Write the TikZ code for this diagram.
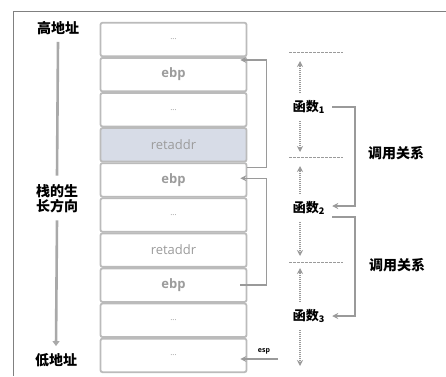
\documentclass[tikz,border=0pt]{standalone}
\usepackage{fontspec}
\setsansfont{Open Sans}
\newfontfamily\cjk{Noto Sans CJK SC}
\usetikzlibrary{arrows.meta,calc}
\definecolor{cellline}{HTML}{BBBBBB}
\definecolor{celltext}{HTML}{9C9C9C}
\definecolor{cellfill}{HTML}{D7DCE7}
\definecolor{arrgray}{HTML}{9A9A9A}
\definecolor{framegray}{HTML}{808080}
\tikzset{
  cell/.style={draw=cellline, line width=1.8pt, rounded corners=2pt, fill=white,
    minimum width=146pt, minimum height=33.5pt, inner sep=0pt,
    font=\sffamily\fontsize{13}{15}\selectfont, text=celltext},
  lbl/.style={font=\cjk\bfseries\fontsize{14}{17}\selectfont, text=black, inner sep=1pt, align=center},
  arr/.style={draw=arrgray, line width=1.5pt, -{Stealth[length=6pt,width=6pt,inset=2pt]}},
  darr/.style={draw=arrgray, line width=1.8pt, dash pattern=on 1pt off 1pt, -{Stealth[length=6pt,width=6pt,inset=2pt]}},
  dline/.style={draw=arrgray, line width=0.8pt, dash pattern=on 3pt off 1pt},
}
\begin{document}
\begin{tikzpicture}[x=1pt,y=-1pt]
\useasboundingbox (0,0) rectangle (446,376);
\draw[framegray, line width=1pt] (446,11) -- (13,11) -- (13,376);

% stack cells
\node[cell] (c1)  at (173.5, 39.5) {\fontsize{8}{9}\selectfont ...};
\node[cell] (c2)  at (173.5, 74.6) {\textbf{ebp}};
\node[cell] (c3)  at (173.5,109.7) {\fontsize{8}{9}\selectfont ...};
\node[cell, fill=cellfill] (c4) at (173.5,144.8) {retaddr};
\node[cell] (c5)  at (173.5,179.9) {\textbf{ebp}};
\node[cell] (c6)  at (173.5,215.0) {\fontsize{8}{9}\selectfont ...};
\node[cell] (c7)  at (173.5,250.1) {retaddr};
\node[cell] (c8)  at (173.5,285.2) {\textbf{ebp}};
\node[cell] (c9)  at (173.5,320.3) {\fontsize{8}{9}\selectfont ...};
\node[cell] (c10) at (173.5,355.4) {\fontsize{8}{9}\selectfont ...};

% ebp chain
\draw[arr] ([yshift=-5pt]c5.north east) -- ++(19,0) |- ([xshift=-7pt,yshift=-3pt]c2.north east);
\draw[arr] ([xshift=-7pt]c8.east) -- ++(26,0) |- ([xshift=-7pt,yshift=-16pt]c5.north east);

% esp
\node[font=\sffamily\bfseries\fontsize{7}{8}\selectfont, inner sep=0pt] (esp) at (264,351) {esp};
\coordinate (espend) at (278,359);
\coordinate (esptip) at ([xshift=-7pt]c10.east);
\draw[arr] (espend) -- (espend -| esptip);

% left labels
\node[lbl] (hi) at (58,28) {高地址};
\node[lbl] (mid) at (57,199) {栈的生\\[-2pt]长方向};
\node[lbl] (lo) at (56,360) {低地址};
\draw[draw=arrgray!85, line width=2.6pt] ([yshift=-6pt]hi.south) -- ([yshift=8pt]mid.north);
\draw[draw=arrgray!85, line width=2.6pt, -{Triangle[length=5pt,width=7pt]}] ([yshift=-6pt]mid.south) -- ([yshift=6pt]lo.north);

% function frames
\coordinate (d1) at (300,52);
\coordinate (d2) at (300,157);
\coordinate (d3) at (300,262);
\coordinate (dend) at (300,366);
\foreach \d in {d1,d2,d3} \draw[dline] ([xshift=-11pt]\d) -- ([xshift=43pt]\d);

\node[lbl, font=\cjk\bfseries\fontsize{13}{15}\selectfont] (f1) at (309,107) {函数\textsubscript{1}};
\node[lbl, font=\cjk\bfseries\fontsize{13}{15}\selectfont] (f2) at (309,208) {函数\textsubscript{2}};
\node[lbl, font=\cjk\bfseries\fontsize{13}{15}\selectfont] (f3) at (309,316) {函数\textsubscript{3}};

\draw[darr] ($(d1 |- f1.north)+(0,-6)$) -- ($(d1)+(0,9)$);
\draw[darr] ($(d1 |- f1.south)+(0,6)$) -- ($(d2)+(0,-5)$);
\draw[darr] ($(d2 |- f2.north)+(0,-6)$) -- ($(d2)+(0,9)$);
\draw[darr] ($(d2 |- f2.south)+(0,6)$) -- ($(d3)+(0,-6)$);
\draw[darr] ($(d3 |- f3.north)+(0,-6)$) -- ($(d3)+(0,6)$);
\draw[darr] ($(d3 |- f3.south)+(0,6)$) -- (dend);

% call relations
\draw[arr] ([xshift=6pt]f1.east) -- ++(23,0) |- ([xshift=6pt,yshift=2pt]f2.east);
\draw[arr] ([xshift=6pt,yshift=-9pt]f2.east) -- ++(23,0) |- ([xshift=6pt]f3.east);
\node[lbl] (call1) at (396,153) {调用关系};
\node[lbl] (call2) at (397,265) {调用关系};
\end{tikzpicture}
\end{document}
